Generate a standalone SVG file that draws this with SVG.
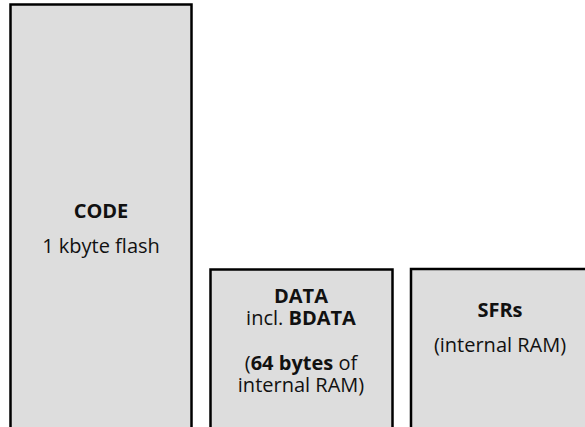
<svg xmlns="http://www.w3.org/2000/svg" width="585" height="427" viewBox="0 0 585 427">
<style>
.box{fill:#dddddd;stroke:#000;stroke-width:2.5}
text{font-family:"Open Sans","Noto Sans","Liberation Sans",sans-serif;font-size:20px;fill:#111;text-anchor:middle}
.b{font-weight:bold}
</style>
<rect width="585" height="427" fill="#fff"/>
<g id="code">
<rect class="box" x="10.5" y="4.5" width="181" height="430"/>
<text x="101" y="218" class="b">CODE</text>
<text x="101" y="253">1 kbyte flash</text>
</g>
<g id="data">
<rect class="box" x="210.5" y="269.5" width="182" height="170"/>
<text x="301" y="303" class="b">DATA</text>
<text x="301" y="325">incl. <tspan class="b">BDATA</tspan></text>
<text x="301" y="370">(<tspan class="b">64 bytes</tspan> of</text>
<text x="301" y="392">internal RAM)</text>
</g>
<g id="sfrs">
<rect class="box" x="411" y="269" width="180" height="170"/>
<text x="500" y="317" class="b">SFRs</text>
<text x="500" y="352">(internal RAM)</text>
</g>
<g id="connectors"/>
</svg>
